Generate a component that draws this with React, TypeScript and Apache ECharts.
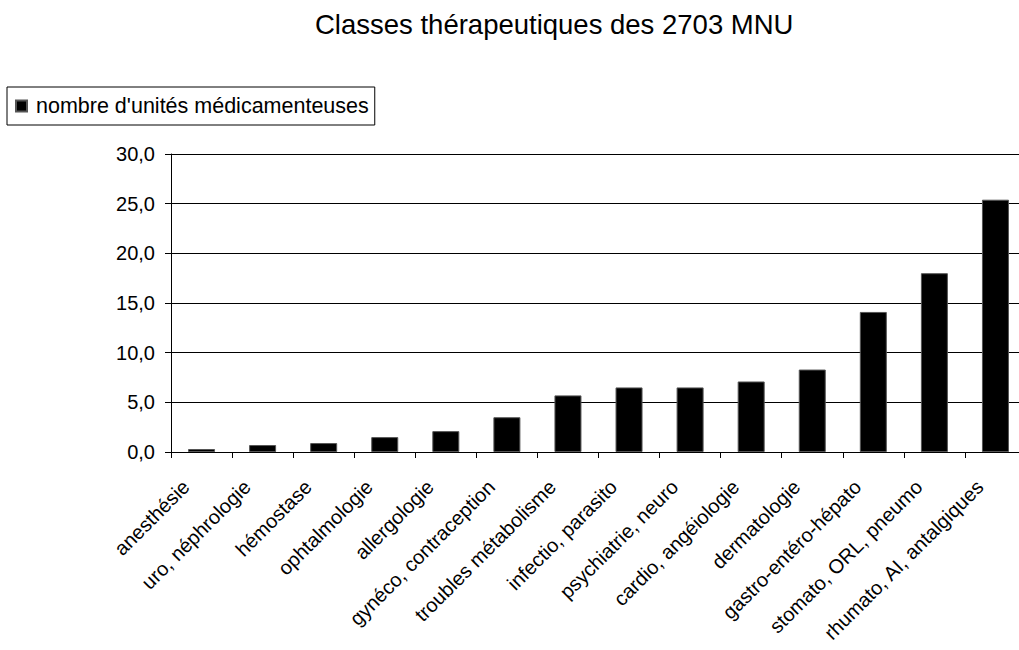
import React, { useEffect, useRef } from "react";
import * as echarts from "echarts";

const categories = [
  "anesthésie",
  "uro, néphrologie",
  "hémostase",
  "ophtalmologie",
  "allergologie",
  "gynéco, contraception",
  "troubles métabolisme",
  "infectio, parasito",
  "psychiatrie, neuro",
  "cardio, angéiologie",
  "dermatologie",
  "gastro-entéro-hépato",
  "stomato, ORL, pneumo",
  "rhumato, AI, antalgiques",
];
const values = [0.3, 0.7, 0.9, 1.5, 2.1, 3.5, 5.7, 6.5, 6.5, 7.1, 8.3, 14.1, 18.0, 25.4];
const seriesName = "nombre d'unités médicamenteuses";
const titleText = "Classes thérapeutiques des 2703 MNU";

const FONT = "'Liberation Sans', Arial, sans-serif";

export default function App() {
  const ref = useRef<HTMLDivElement>(null);
  useEffect(() => {
    if (!ref.current) return;
    const chart = echarts.init(ref.current, undefined, { renderer: "svg" });
    chart.setOption({
      animation: false,
      backgroundColor: "#ffffff",
      title: {
        text: titleText,
        left: 315,
        top: 10,
        padding: 0,
        textStyle: { fontFamily: FONT, fontSize: 27.5, fontWeight: "normal", color: "#000" },
      },
      legend: {
        left: 7,
        top: 87,
        padding: [8, 6, 8, 8],
        borderColor: "#000",
        borderWidth: 1,
        itemWidth: 11,
        itemHeight: 11,
        icon: "rect",
        textStyle: { fontFamily: FONT, fontSize: 21.5, color: "#000", padding: [0, 0, 0, 4] },
        data: [seriesName],
      },
      grid: { left: 171, top: 154, width: 855, height: 298, outerBoundsMode: "none" },
      xAxis: {
        type: "category",
        data: categories,
        axisLine: { lineStyle: { color: "#000", width: 1 } },
        axisTick: { show: true, length: 6, lineStyle: { color: "#000" } },
        axisLabel: {
          rotate: 45,
          interval: 0,
          margin: 16,
          padding: [0, 22, 0, 0],
          fontFamily: FONT,
          fontSize: 20,
          color: "#000",
        },
      },
      yAxis: {
        type: "value",
        min: 0,
        max: 30,
        interval: 5,
        axisLine: { show: true, lineStyle: { color: "#000", width: 1 } },
        axisTick: { show: true, length: 6, lineStyle: { color: "#000" } },
        splitLine: { show: true, lineStyle: { color: "#000", width: 1 } },
        axisLabel: {
          margin: 16,
          fontFamily: FONT,
          fontSize: 20,
          color: "#000",
          formatter: (v: number) => v.toFixed(1).replace(".", ","),
        },
      },
      series: [
        {
          name: seriesName,
          type: "bar",
          data: values,
          barWidth: 27,
          itemStyle: { color: "#000", borderColor: "#555", borderWidth: 1 },
        },
      ],
    });
    return () => chart.dispose();
  }, []);
  return (
    <div
      ref={ref}
      style={{ position: "absolute", left: 0, top: 0, width: 1019, height: 650 }}
    />
  );
}
